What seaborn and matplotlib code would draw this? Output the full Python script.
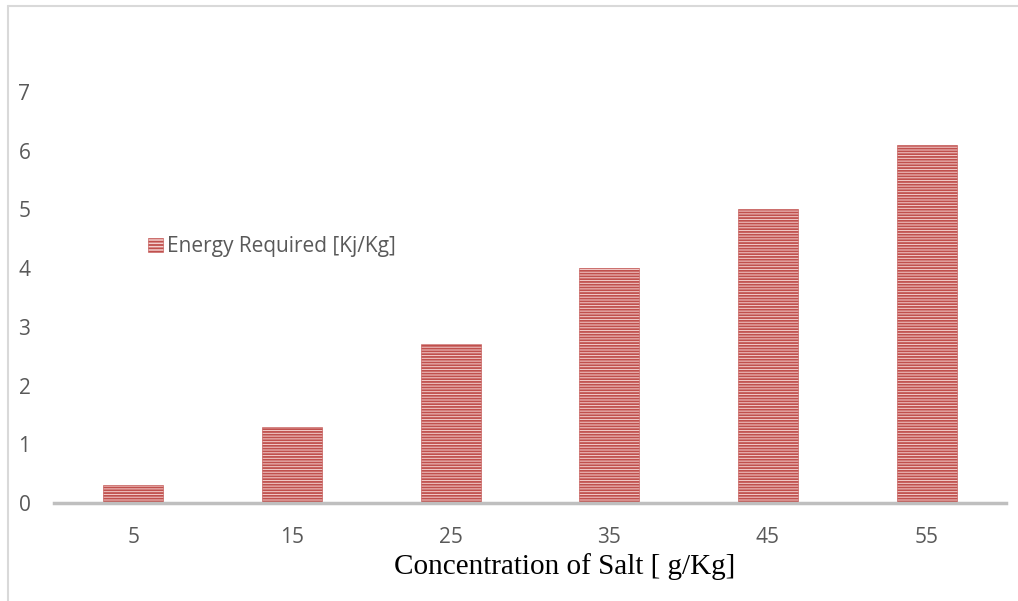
"""Energy required vs salt concentration, bar chart with striped bars."""

import matplotlib.pyplot as plt
import pandas as pd
import seaborn as sns
from matplotlib.lines import Line2D
from matplotlib.patches import Patch

sns.set_theme(style="white")
plt.rcParams["font.family"] = ["Open Sans", "DejaVu Sans"]
plt.rcParams["hatch.color"] = "#c0504d"
plt.rcParams["hatch.linewidth"] = 1.3

concentration = ["5", "15", "25", "35", "45", "55"]
energy = [0.3, 1.3, 2.7, 4.0, 5.0, 6.1]
series_name = "Energy Required [Kj/Kg]"

df = pd.DataFrame({"concentration": concentration, "energy": energy})

fill = "#f4cfce"
stripe = "#c0504d"

fig = plt.figure(figsize=(10.18, 6.01), dpi=100)
ax = fig.add_axes([54 / 1018, 1 - 503 / 601, 952 / 1018, 411 / 601])

sns.barplot(data=df, x="concentration", y="energy", ax=ax, width=0.38,
            color=fill, edgecolor=stripe, linewidth=0.4,
            hatch="------", saturation=1)

ax.set_ylim(0, 7)
ax.set_yticks(range(0, 8))
ax.tick_params(axis="both", labelsize=15, labelcolor="#595959", length=0)
ax.tick_params(axis="x", pad=17)
ax.tick_params(axis="y", pad=17)

for side in ["top", "right", "left"]:
    ax.spines[side].set_visible(False)
ax.spines["bottom"].set_color("#bfbfbf")
ax.spines["bottom"].set_linewidth(2.5)

ax.set_ylabel("")
ax.set_xlabel("Concentration of Salt [ g/Kg]", family=["Liberation Serif"],
              fontsize=21, color="black", labelpad=4)
ax.xaxis.set_label_coords((565 - 54) / 952, -64 / 411)
ax.xaxis.label.set_verticalalignment("center")

handle = Patch(facecolor=fill, edgecolor=stripe, linewidth=0.4, hatch="-----")
ax.legend([handle], [series_name], loc="upper left",
          bbox_to_anchor=(86 / 952, 1 - 136 / 411), frameon=False,
          fontsize=15, labelcolor="#595959", handlelength=0.7,
          handleheight=0.7, handletextpad=0.2, borderaxespad=0)

# light chart-area border (left and top)
fig.add_artist(Line2D([7.5 / 1018, 7.5 / 1018], [0, 1 - 6 / 601],
                      color="#d9d9d9", linewidth=1.5))
fig.add_artist(Line2D([7.5 / 1018, 1], [1 - 6 / 601, 1 - 6 / 601],
                      color="#d9d9d9", linewidth=1.5))

fig.savefig("out.png", dpi=100)
